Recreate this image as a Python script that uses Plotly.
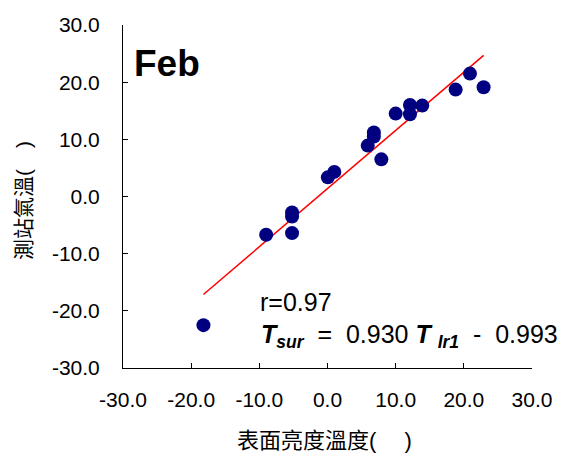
import numpy as np
import plotly.graph_objects as go

# February: satellite IR1 surface brightness temperature vs. station air temperature
brightness_temp = [-18.2, -9.0, -5.2, -5.2, -5.2, 0.05, 1.0, 5.9, 6.8, 6.8,
                   7.9, 10.0, 12.1, 12.1, 13.9, 18.8, 20.9, 22.9]
station_temp = [-22.5, -6.7, -6.4, -3.5, -2.8, 3.35, 4.3, 8.9, 10.5, 11.2,
                6.5, 14.5, 14.4, 16.0, 15.9, 18.7, 21.5, 19.1]

tick_values = [-30, -20, -10, 0, 10, 20, 30]
tick_labels = ["-30.0", "-20.0", "-10.0", "0.0", "10.0", "20.0", "30.0"]

NB = "\u00a0"
month_label = "Feb"
r_label = "r=0.97"
equation_label = (f"<b><i>T</i></b><sub><b><i>sur</i></b></sub>{NB*2}={NB*2}0.930{NB}"
                  f"<b><i>T</i></b>{NB}<sub><b><i>Ir1</i></b></sub>{NB*2}-{NB*2}0.993")
x_title = "表面亮度溫度(　 )"
y_title = "測站氣溫(　)"

FONT = "Liberation Sans, Arial, Noto Sans CJK TC, sans-serif"

# least-squares trend line across the observed range
slope, intercept = np.polyfit(brightness_temp, station_temp, 1)
fit_x = np.array([min(brightness_temp), max(brightness_temp)])
fit_y = slope * fit_x + intercept

fig = go.Figure()
fig.add_trace(go.Scatter(
    x=fit_x, y=fit_y, mode="lines",
    line=dict(color="#ff0000", width=1.5),
    hoverinfo="skip", showlegend=False,
))
fig.add_trace(go.Scatter(
    x=brightness_temp, y=station_temp, mode="markers",
    marker=dict(color="#000080", size=14, line=dict(width=0)),
    showlegend=False,
))

axis_common = dict(
    range=[-30, 30], tickvals=tick_values, ticktext=tick_labels,
    showline=True, linecolor="black", linewidth=1,
    ticks="inside", ticklen=5, tickcolor="black", tickwidth=1,
    showgrid=False, zeroline=False,
    tickfont=dict(family=FONT, size=21, color="black"),
)

fig.update_layout(
    width=573, height=456,
    margin=dict(l=123, r=41, t=25, b=88),
    paper_bgcolor="white", plot_bgcolor="white",
    font=dict(family=FONT, color="black"),
    xaxis=dict(**axis_common, ticklabelstandoff=13),
    yaxis=dict(**axis_common, ticklabelstandoff=18),
    annotations=[
        dict(text=f"<b>{month_label}</b>", xref="paper", yref="paper",
             x=(132 - 123) / 409, y=(368 - 64) / 343,
             xanchor="left", yanchor="middle",
             showarrow=False, font=dict(family=FONT, size=37, color="black")),
        dict(text=r_label, xref="paper", yref="paper",
             x=(258 - 123) / 409, y=(368 - 302) / 343,
             xanchor="left", yanchor="middle", showarrow=False,
             font=dict(family=FONT, size=25, color="black")),
        dict(text=equation_label, xref="paper", yref="paper",
             x=(259 - 123) / 409, y=(368 - 336) / 343,
             xanchor="left", yanchor="middle", showarrow=False,
             font=dict(family=FONT, size=25, color="black")),
        dict(text=x_title, xref="paper", yref="paper",
             x=(324 - 123) / 409, y=-(440 - 368) / 343,
             xanchor="center", yanchor="middle", showarrow=False,
             font=dict(family=FONT, size=22, color="black")),
        dict(text=y_title, xref="paper", yref="paper",
             x=-(123 - 23) / 409, y=(368 - 201) / 343,
             xanchor="center", yanchor="middle", textangle=-90,
             showarrow=False,
             font=dict(family=FONT, size=21, color="black")),
    ],
)

fig.write_html("out.html")
